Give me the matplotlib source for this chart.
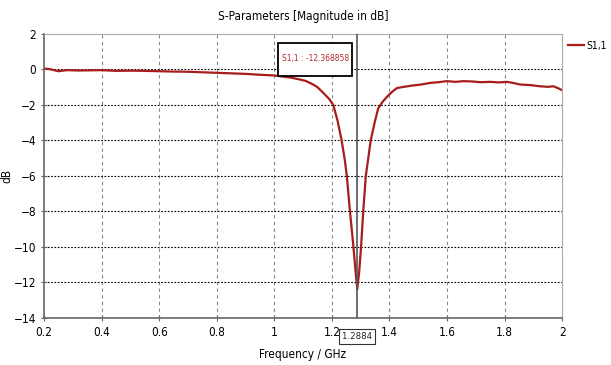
import matplotlib.pyplot as plt
from matplotlib.patches import Rectangle

plt.rcParams['font.family'] = ['DejaVu Sans']
plt.rcParams['font.stretch'] = 'condensed'

# S11
freq = [0.20, 0.22, 0.25, 0.28, 0.32, 0.36, 0.40, 0.45, 0.50, 0.55, 0.60,
        0.65, 0.70, 0.75, 0.80, 0.85, 0.90, 0.95, 1.00, 1.03, 1.06, 1.09,
        1.11, 1.135, 1.15, 1.169, 1.19, 1.205, 1.22, 1.234, 1.245, 1.252,
        1.263, 1.275, 1.282, 1.2884, 1.295, 1.3015, 1.309, 1.318, 1.335,
        1.350, 1.361, 1.375, 1.391, 1.41, 1.426, 1.45, 1.483, 1.51, 1.541,
        1.57, 1.599, 1.63, 1.657, 1.69, 1.715, 1.75, 1.78, 1.808, 1.83,
        1.854, 1.89, 1.923, 1.95, 1.97, 1.985, 2.00]
s11 = [0.05, 0.02, -0.10, -0.04, -0.06, -0.05, -0.04, -0.08, -0.07, -0.08, -0.10,
       -0.12, -0.13, -0.16, -0.19, -0.22, -0.25, -0.30, -0.34, -0.40, -0.47, -0.57,
       -0.65, -0.85, -1.00, -1.30, -1.65, -2.00, -2.90, -4.00, -5.10, -6.00,
       -8.00, -10.00, -11.30, -12.37, -11.40, -10.00, -8.00, -6.00, -4.00,
       -2.90, -2.20, -1.85, -1.55, -1.25, -1.05, -0.98, -0.90, -0.85, -0.76,
       -0.72, -0.66, -0.70, -0.66, -0.68, -0.72, -0.70, -0.73, -0.70, -0.76,
       -0.85, -0.88, -0.95, -0.98, -0.95, -1.05, -1.17]

xticks = [0.2, 0.4, 0.6, 0.8, 1, 1.2, 1.4, 1.6, 1.8, 2]
xticklabels = ['0.2', '0.4', '0.6', '0.8', '1', '1.2', '1.4', '1.6', '1.8', '2']
yticks = [2, 0, -2, -4, -6, -8, -10, -12, -14]

marker_f = 1.2884
marker_text = 'S1,1 : -12.368858'

fs = 8.5

fig = plt.figure(figsize=(6.11, 3.65), dpi=100)
ax = fig.add_axes([0.072, 0.129, 0.848, 0.778])

ax.plot(freq, s11, color='#a81c1c', lw=1.6, label='S1,1')
ax.set_xlim(0.2, 2)
ax.set_ylim(-14, 2)
ax.set_xticks(xticks)
ax.set_xticklabels(xticklabels)
ax.set_yticks(yticks)

for x in xticks[1:-1]:
    ax.axvline(x, color='#888888', ls=(0, (3, 3)), lw=0.8, zorder=0)
for y in yticks[1:-1]:
    ax.axhline(y, color='black', ls=(0, (1.5, 1.5)), lw=0.8, zorder=0)

for s in ['left', 'bottom']:
    ax.spines[s].set_color('#666666')
    ax.spines[s].set_linewidth(1.2)
for s in ['top', 'right']:
    ax.spines[s].set_color('#aaaaaa')
    ax.spines[s].set_linewidth(0.8)
ax.tick_params(direction='inout', length=5, color='#666666', labelsize=fs, pad=3)

# marker line + readout box
ax.axvline(marker_f, color='#555555', lw=1.2, zorder=3)
ax.add_patch(Rectangle((0.452, 0.852), 0.143, 0.116, transform=ax.transAxes,
                       fc='white', ec='black', lw=1.3, zorder=4))
ax.text(0.5235, 0.912, marker_text, transform=ax.transAxes, color='#b02a2a',
        fontsize=6.0, ha='center', va='center', zorder=5)
ax.text(marker_f, -0.065, '1.2884', transform=ax.get_xaxis_transform(), fontsize=6.8,
        ha='center', va='center', color='#222222',
        bbox=dict(boxstyle='square,pad=0.3', fc='white', ec='#333333', lw=0.8), zorder=5,
        clip_on=False)

ax.set_title('S-Parameters [Magnitude in dB]', fontsize=fs, pad=10)
ax.set_xlabel('Frequency / GHz', fontsize=fs)
ax.xaxis.set_label_coords(0.5, -0.105)
ax.set_ylabel('dB', fontsize=fs)
ax.yaxis.set_label_coords(-0.06, 0.5)

ax.legend(loc='upper left', bbox_to_anchor=(1.012, 0.975), frameon=False, fontsize=7.5,
          handlelength=1.5, handletextpad=0.25, borderaxespad=0, borderpad=0)

fig.savefig('out.png', dpi=100)
